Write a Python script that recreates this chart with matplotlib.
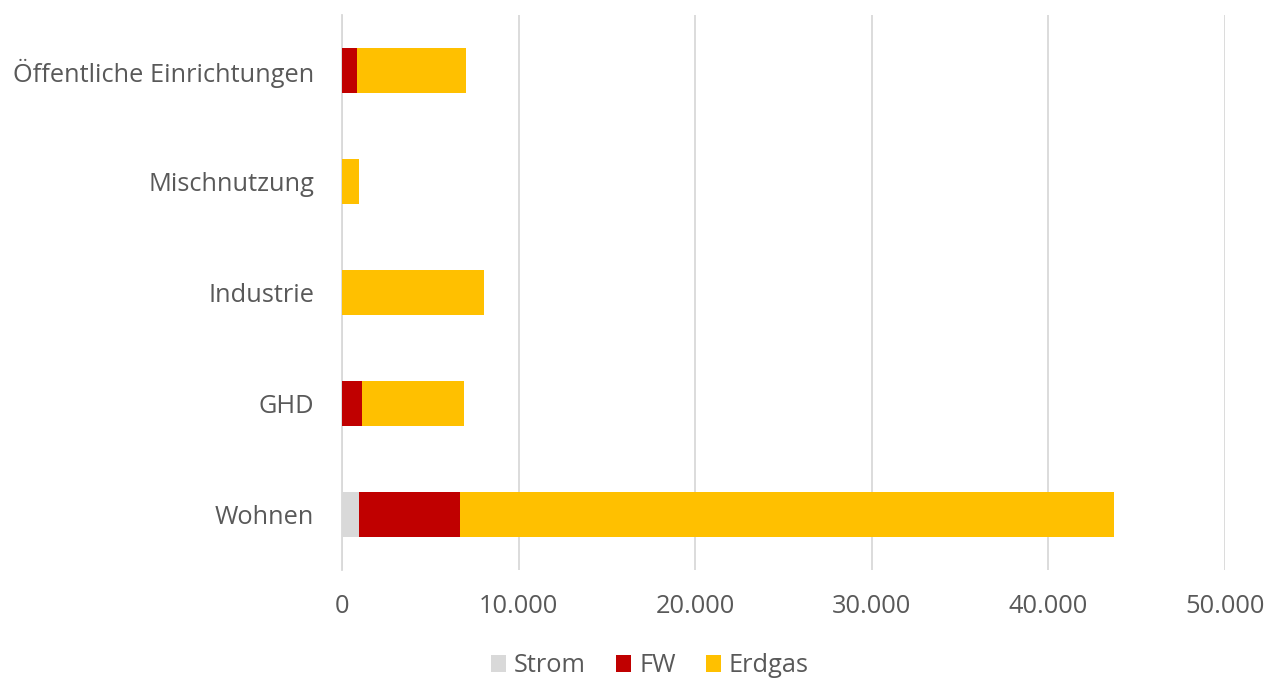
import matplotlib.pyplot as plt
import numpy as np
from matplotlib.ticker import FuncFormatter

categories = ["Wohnen", "GHD", "Industrie", "Mischnutzung", "Öffentliche Einrichtungen"]
strom = [980, 0, 0, 0, 0]
fw = [5720, 1130, 0, 0, 870]
erdgas = [37000, 5760, 8060, 945, 6170]

series = [("Strom", strom, "#d9d9d9"), ("FW", fw, "#c00000"), ("Erdgas", erdgas, "#ffc000")]
text_color = "#595959"

plt.rcParams["font.family"] = ["Open Sans", "DejaVu Sans"]

fig = plt.figure(figsize=(12.82, 6.82), dpi=100)
ax = fig.add_axes([342 / 1282, 1 - 570 / 682, (1225 - 342) / 1282, (570 - 15) / 682])

y = np.arange(len(categories))
left = np.zeros(len(categories))
for name, vals, color in series:
    vals = np.array(vals, dtype=float)
    ax.barh(y, vals, left=left, height=0.4, color=color, label=name, zorder=3)
    left += vals

ax.set_xlim(0, 50000)
ax.set_ylim(-0.5, len(categories) - 0.5)
ax.set_xticks(np.arange(0, 50001, 10000))
ax.xaxis.set_major_formatter(FuncFormatter(lambda v, p: f"{int(v):,}".replace(",", ".")))
ax.set_yticks(y)
ax.set_yticklabels(categories)
ax.tick_params(axis="both", length=0, labelsize=18.3, colors=text_color)
ax.tick_params(axis="x", pad=17)
ax.tick_params(axis="y", pad=20)
ax.grid(axis="x", color="#d9d9d9", linewidth=1.3, zorder=0)
for s in ["top", "right", "bottom"]:
    ax.spines[s].set_visible(False)
ax.spines["left"].set_color("#d9d9d9")
ax.spines["left"].set_linewidth(1.3)

leg = fig.legend(loc="center", bbox_to_anchor=(650 / 1282, 1 - 666 / 682), ncol=3, frameon=False,
                 fontsize=18.3, handlelength=0.6, handleheight=0.6, handletextpad=0.3, columnspacing=1.2)
for t in leg.get_texts():
    t.set_color(text_color)

fig.savefig("out.png", dpi=100)
